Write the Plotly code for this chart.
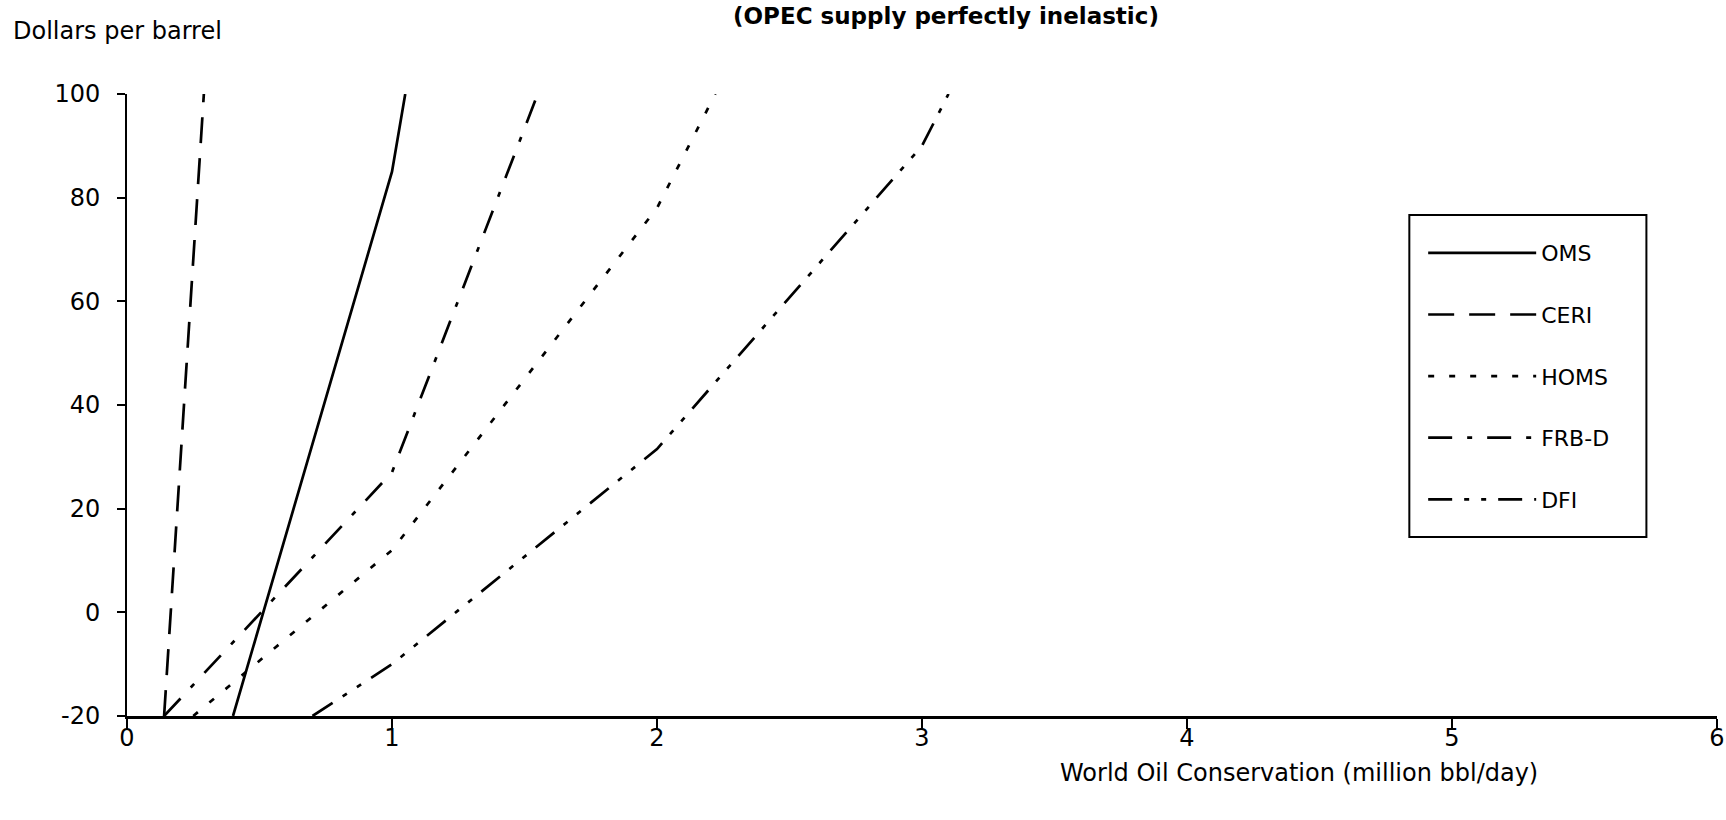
import plotly.graph_objects as go

# ---- data ----
oms_x = [0.40, 1.00, 1.05]
oms_y = [-20, 85, 100]

ceri_x = [0.14, 0.29]
ceri_y = [-20, 100]

homs_x = [0.25, 1.00, 2.00, 2.22]
homs_y = [-20, 12, 78, 100]

frbd_x = [0.14, 1.00, 1.55]
frbd_y = [-20, 27, 100]

dfi_x = [0.70, 1.00, 2.00, 3.00, 3.10]
dfi_y = [-20, -10, 31.5, 90, 100]

series_names = ["OMS", "CERI", "HOMS", "FRB-D", "DFI"]
x_ticks = [0, 1, 2, 3, 4, 5, 6]
y_ticks = [-20, 0, 20, 40, 60, 80, 100]

FONT = "'DejaVu Sans', sans-serif"

series = [
    (oms_x, oms_y, "solid"),
    (ceri_x, ceri_y, "26px,15px"),
    (homs_x, homs_y, "6px,15px"),
    (frbd_x, frbd_y, "24px,15px,5px,15px"),
    (dfi_x, dfi_y, "24px,12px,5px,12px,5px,12px"),
]

fig = go.Figure()
for (xs, ys, dash), name in zip(series, series_names):
    fig.add_trace(go.Scatter(
        x=xs, y=ys, mode="lines", name=name, legendgroup=name,
        line=dict(color="black", width=2.7, dash=dash),
        hoverinfo="skip",
    ))

fig.update_layout(
    width=1726, height=820,
    margin=dict(l=127, r=9, t=94, b=104, autoexpand=False),
    paper_bgcolor="white", plot_bgcolor="white",
    font=dict(family=FONT, color="black", size=20),
    showlegend=True,
    legend=dict(
        x=0.8152, y=0.778, xanchor="left", yanchor="top",
        borderwidth=0, bgcolor="rgba(0,0,0,0)",
        font=dict(family=FONT, size=22, color="black"),
        itemwidth=108, tracegroupgap=30,
    ),
    xaxis=dict(
        range=[0, 6], tickvals=x_ticks, ticktext=[str(v) for v in x_ticks],
        showgrid=False, zeroline=False, showline=True, linecolor="black", linewidth=2.5,
        ticks="outside", ticklen=10, tickwidth=2, tickcolor="black",
        tickfont=dict(size=24), ticklabelstandoff=-12, ticklabeloverflow="allow",
        automargin=False,
    ),
    yaxis=dict(
        range=[-20, 100], tickvals=y_ticks, ticktext=[str(v) for v in y_ticks],
        showgrid=False, zeroline=False, showline=True, linecolor="black", linewidth=2,
        ticks="outside", ticklen=8, tickwidth=2, tickcolor="black",
        tickfont=dict(size=24), ticklabelstandoff=12, automargin=False,
    ),
    shapes=[
        dict(type="rect", xref="paper", yref="paper",
             x0=0.8065, x1=0.9556, y0=0.2878, y1=0.8055,
             line=dict(color="black", width=2), fillcolor="rgba(0,0,0,0)"),
    ],
    annotations=[
        dict(text="<b>(OPEC supply perfectly inelastic)</b>", xref="paper", yref="paper",
             x=0.515, y=1.149, xanchor="center", yanchor="top", showarrow=False,
             font=dict(size=23, family=FONT)),
        dict(text="Dollars per barrel", xref="paper", yref="paper",
             x=-0.0727, y=1.101, xanchor="left", yanchor="middle", showarrow=False,
             font=dict(size=24, family=FONT)),
        dict(text="World Oil Conservation (million bbl/day)", xref="paper", yref="paper",
             x=0.737, y=-0.0916, xanchor="center", yanchor="middle", showarrow=False,
             font=dict(size=24, family=FONT)),
    ],
)

fig.write_html("out.html")
